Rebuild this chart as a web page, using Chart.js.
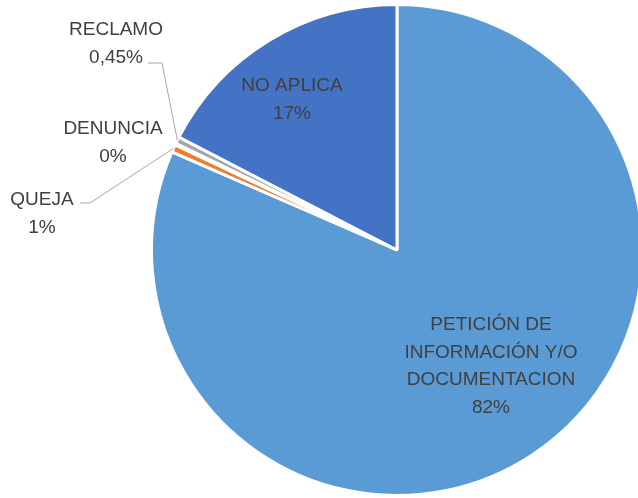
<!DOCTYPE html>
<html>
<head>
<meta charset="utf-8">
<script src="https://cdn.jsdelivr.net/npm/chart.js@4.4.0/dist/chart.umd.min.js"></script>
<style>
  html, body { margin: 0; padding: 0; background: #fff; overflow: hidden; }
  #wrap { width: 650px; height: 498px; }
</style>
</head>
<body>
<div id="wrap"><canvas id="pieChart" width="650" height="498"></canvas></div>
<script>
// categorias y valores (porcentaje)
const categories = ['PETICIÓN DE INFORMACIÓN Y/O DOCUMENTACION', 'QUEJA', 'DENUNCIA', 'RECLAMO', 'NO APLICA'];
const values = [81.55, 0.5, 0.1, 0.45, 17.4];
const valueLabels = ['82%', '1%', '0%', '0,45%', '17%'];
const colors = ['#5B9BD5', '#ED7D31', '#FFC000', '#A5A5A5', '#4472C4'];

// donde va cada etiqueta (centro del bloque de texto) y si lleva linea guia
const labelSpots = [
  { x: 491, y: 325 },
  { x: 42, y: 200, leader: [[80, 203], [90, 203]] },
  { x: 113, y: 129 },
  { x: 116, y: 30, leader: [[148, 63], [162, 63]] },
  { x: 292, y: 86 }
];

const FONT = '19px "Liberation Sans", Arial, sans-serif';
const LINE_H = 27.5;

function wrapText(ctx, text, maxW) {
  const words = text.split(' ');
  const lines = [];
  let cur = '';
  words.forEach(w => {
    const test = cur ? cur + ' ' + w : w;
    if (ctx.measureText(test).width > maxW && cur) {
      lines.push(cur);
      cur = w;
    } else {
      cur = test;
    }
  });
  if (cur) lines.push(cur);
  return lines;
}

const pieLabels = {
  id: 'pieLabels',
  afterDatasetsDraw(chart) {
    const ctx = chart.ctx;
    const meta = chart.getDatasetMeta(0);
    ctx.save();
    ctx.font = FONT;
    ctx.textAlign = 'center';
    ctx.textBaseline = 'middle';

    meta.data.forEach((arc, i) => {
      const spot = labelSpots[i];
      const p = arc.getProps(['x', 'y', 'startAngle', 'endAngle', 'outerRadius'], true);
      const mid = (p.startAngle + p.endAngle) / 2;
      const ex = p.x + Math.cos(mid) * p.outerRadius;
      const ey = p.y + Math.sin(mid) * p.outerRadius;

      if (spot.leader) {
        ctx.strokeStyle = '#A6A6A6';
        ctx.lineWidth = 1;
        ctx.beginPath();
        ctx.moveTo(spot.leader[0][0], spot.leader[0][1]);
        ctx.lineTo(spot.leader[1][0], spot.leader[1][1]);
        ctx.lineTo(ex, ey);
        ctx.stroke();
      }

      const lines = wrapText(ctx, categories[i], 180).concat([valueLabels[i]]);
      ctx.fillStyle = '#404040';
      lines.forEach((ln, k) => {
        ctx.fillText(ln, spot.x, spot.y + k * LINE_H);
      });
    });
    ctx.restore();
  }
};

const ctx = document.getElementById('pieChart').getContext('2d');
const pieChart = new Chart(ctx, {
  type: 'pie',
  data: {
    labels: categories,
    datasets: [{
      data: values,
      backgroundColor: colors,
      borderColor: '#ffffff',
      borderWidth: 3
    }]
  },
  options: {
    responsive: false,
    animation: false,
    layout: { padding: { left: 150, right: 6, top: 3, bottom: 1 } },
    plugins: {
      legend: { display: false },
      tooltip: { enabled: false }
    }
  },
  plugins: [pieLabels]
});
</script>
</body>
</html>
